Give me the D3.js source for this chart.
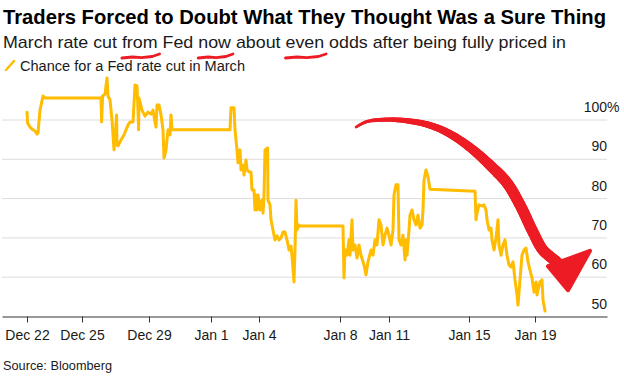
<!DOCTYPE html>
<html><head><meta charset="utf-8">
<script src="https://cdn.jsdelivr.net/npm/d3@7"></script>
<style>
body{margin:0;background:#fff;}
svg{display:block;font-family:"Liberation Sans",Arial,sans-serif;}
</style></head><body>
<svg id="c" width="624" height="378"></svg>
<script>
const title = "Traders Forced to Doubt What They Thought Was a Sure Thing";
const subtitle = "March rate cut from Fed now about even odds after being fully priced in";
const underlinedWords = ["from", "now", "even"];
const legendLabel = "Chance for a Fed rate cut in March";
const sourceLabel = "Source: Bloomberg";
const tickLabels = ["Dec 22","Dec 25","Dec 29","Jan 1","Jan 4","Jan 8","Jan 11","Jan 15","Jan 19"];
const tickSessions = [0,2.75,6.1,9.2,11.6,15.65,18.1,22.1,25.4];
const yTicks = [50,60,70,80,90,100];

// trading-session position and market-implied chance (%)
const session = [
0.00,0.03,0.15,0.30,0.40,0.50,0.55,0.65,0.80,0.90,3.70,3.73,3.78,3.90,4.00,4.05,4.15,4.25,4.35,4.43,
4.48,4.50,4.55,4.70,4.85,4.95,5.05,5.15,5.30,5.40,5.50,5.55,5.58,5.60,5.75,5.90,6.05,6.20,6.30,6.40,
6.45,6.50,6.60,6.70,6.80,6.85,6.95,7.05,7.15,7.20,7.25,7.35,
10.15,10.20,10.35,10.40,10.50,10.55,10.65,10.70,10.80,10.85,10.95,11.00,11.10,11.20,11.25,11.35,11.40,11.45,11.50,11.55,
11.65,11.75,11.80,11.85,11.90,12.03,12.05,12.15,12.20,12.30,12.40,12.50,12.60,12.70,12.80,12.90,13.00,13.10,13.20,13.25,
13.35,13.40,13.45,13.50,13.60,13.65,
15.80,15.85,15.90,16.00,16.10,16.15,16.25,16.30,16.40,16.50,16.60,16.70,16.85,16.95,17.05,17.20,17.30,17.40,17.50,17.60,
17.70,17.80,17.90,18.00,18.10,18.20,18.30,18.35,18.45,18.55,18.60,18.70,18.80,18.90,18.95,19.00,19.10,19.15,19.25,19.35,
19.45,19.55,19.65,19.75,19.80,19.85,19.95,20.05,20.10,20.15,
22.40,22.45,22.50,22.60,22.75,22.85,22.95,23.00,23.10,23.20,23.25,23.35,23.45,23.55,23.60,23.70,23.80,23.90,24.00,24.10,
24.20,24.30,24.40,24.50,24.55,24.65,24.75,24.85,24.95,25.05,25.15,25.25,25.35,25.45,25.50,25.55,25.65,25.75,25.80,25.90];
const chance = [
102.0,99.2,98.2,97.5,97.2,96.4,96.7,102.5,106.1,105.6,105.6,99.5,106.1,106.6,110.7,106.1,105.1,100.0,92.4,97.5,
101.3,93.6,93.4,94.9,96.2,97.5,98.7,99.5,99.5,108.9,108.7,102.5,97.5,105.6,102.5,101.0,102.0,101.5,102.5,99.5,
98.2,103.8,103.8,101.3,97.5,90.3,92.4,97.5,96.2,101.3,97.5,97.5,
97.5,103.1,103.1,97.5,92.4,89.1,92.4,87.3,88.5,86.0,89.8,87.3,86.8,86.8,82.2,82.2,77.1,80.9,77.1,80.9,
77.1,79.6,76.3,80.9,92.4,92.9,79.6,78.4,74.6,72.0,69.5,70.5,69.5,70.0,71.5,71.5,69.5,66.9,67.9,65.4,
58.8,66.9,79.6,72.0,73.3,73.0,
73.0,59.8,66.9,65.6,69.5,65.6,74.6,66.9,68.2,64.9,68.2,65.6,63.1,60.6,63.9,66.9,65.6,69.5,68.2,74.6,
73.3,68.2,70.7,72.5,70.7,68.2,72.0,80.9,83.5,83.5,69.5,68.2,70.7,64.4,69.5,65.6,72.0,75.8,77.1,74.6,
73.3,75.8,72.5,73.3,77.1,84.7,87.3,85.5,84.0,82.4,
81.9,74.6,76.3,78.4,78.1,78.4,77.1,74.6,72.0,72.5,69.5,66.9,70.0,74.6,68.2,65.6,68.2,69.5,65.6,63.1,
62.6,63.9,59.3,55.5,52.9,59.3,65.6,66.9,67.4,63.9,61.8,59.8,56.2,58.8,55.5,56.7,58.8,59.3,54.2,51.4];

// hand-drawn red arrow annotation, in data space
const arrowSession = [16.45,17.0,18.15,19.15,19.9,20.65,21.4,22.3,23.15,24.0,24.65,25.3,25.8,26.5];
const arrowLevel = [98.2,99.6,100.1,99.7,99.0,97.7,95.7,92.4,88.5,84.0,78.4,71.5,66.9,63.9];
const headSession = [26.05,28.15,27.05];
const headLevel = [62.8,66.7,56.7];

const svg = d3.select("#c");
const RED = "#ED1C24", GOLD = "#FFBC00", INK = "#1a1a1a";

const x = d3.scaleLinear().domain([-1.25, 29]).range([2, 607]);
const y = d3.scaleLinear().domain([50, 100]).range([316.5, 120]);

// title: fit the natural width inside the page, then stretch to the reference width
const tt = svg.append("text").attr("x", 3).attr("y", 24).attr("font-size", 20).attr("font-weight", "bold")
  .attr("fill", "#000").text(title);
const tw = tt.node().getComputedTextLength();
tt.attr("font-size", Math.min(21, 20 * 612 / tw)).attr("textLength", 603).attr("lengthAdjust", "spacingAndGlyphs");

const sub = svg.append("text").attr("x", 3).attr("y", 48).attr("font-size", 17).attr("fill", INK)
  .attr("textLength", 563).attr("lengthAdjust", "spacingAndGlyphs").text(subtitle);
svg.append("line").attr("x1", 6).attr("y1", 70).attr("x2", 14).attr("y2", 61)
  .attr("stroke", GOLD).attr("stroke-width", 2.5).attr("stroke-linecap", "round");
svg.append("text").attr("x", 20).attr("y", 71).attr("font-size", 14).attr("fill", INK)
  .attr("textLength", 225).attr("lengthAdjust", "spacingAndGlyphs").text(legendLabel);
svg.append("text").attr("x", 3).attr("y", 370).attr("font-size", 12.5).attr("fill", INK)
  .attr("textLength", 109).attr("lengthAdjust", "spacingAndGlyphs").text(sourceLabel);

// underlines
const subNode = sub.node();
underlinedWords.forEach(w => {
  const i = subtitle.indexOf(" " + w + " ") + 1;
  const x0 = subNode.getStartPositionOfChar(i).x;
  const x1 = subNode.getEndPositionOfChar(i + w.length - 1).x;
  const yy = 56.5, wd = x1 - x0;
  const p = d3.path();
  p.moveTo(x0, yy + 1.5);
  p.lineTo(x0 + wd * 0.3, yy + 0.5);
  p.lineTo(x0 + wd * 0.55, yy + 1.2);
  p.lineTo(x0 + wd * 0.85, yy);
  p.lineTo(x1 + 2, yy - 2.5);
  svg.append("path").attr("d", p.toString()).attr("fill", "none").attr("stroke", RED)
    .attr("stroke-width", 2.8).attr("stroke-linecap", "round").attr("stroke-linejoin", "round");
});

// gridlines
svg.append("g").selectAll("line").data(yTicks.filter(d => d > 50)).join("line")
  .attr("x1", 2).attr("x2", 607).attr("y1", d => y(d)).attr("y2", d => y(d))
  .attr("stroke", "#dcdcdc").attr("stroke-width", 1);

// y labels
const yl = svg.append("g").attr("font-size", 14).attr("fill", INK);
yl.selectAll("text.num").data(yTicks).join("text").attr("class", "num")
  .attr("x", 607).attr("y", d => y(d) - 8).attr("text-anchor", "end").text(d => d);
yl.append("text").attr("x", 607).attr("y", y(100) - 8).text("%");

// x axis
const xAxis = d3.axisBottom(x).tickValues(tickSessions)
  .tickFormat((d, i) => tickLabels[i]).tickSize(6).tickSizeOuter(0);
const gx = svg.append("g").attr("transform", `translate(0,${y(50)})`).call(xAxis);
gx.select(".domain").attr("stroke", "#333");
gx.selectAll(".tick line").attr("stroke", "#333");
gx.selectAll(".tick text").attr("font-size", 14).attr("fill", INK)
  .attr("font-family", '"Liberation Sans",Arial,sans-serif').attr("y", 14).attr("dy", "0.71em");

// data line
const pts = session.map((s, i) => [s, chance[i]]);
svg.append("path").datum(pts)
  .attr("d", d3.line().x(d => x(d[0])).y(d => y(d[1])))
  .attr("fill", "none").attr("stroke", GOLD).attr("stroke-width", 3)
  .attr("stroke-linejoin", "round").attr("stroke-linecap", "round");

// red arrow
const apts = arrowSession.map((s, i) => [x(s), y(arrowLevel[i])]);
const guide = svg.append("path").attr("d", d3.line().curve(d3.curveCatmullRom)(apts))
  .attr("fill", "none").attr("stroke", "none");
const gn = guide.node(), L = gn.getTotalLength(), N = 140;
let prev = gn.getPointAtLength(0);
const ag = svg.append("g").attr("stroke", RED).attr("stroke-linecap", "round");
for (let k = 1; k <= N; k++) {
  const f = k / N, pt = gn.getPointAtLength(L * f);
  const w = 2.5 + 8.5 * Math.min(1, f / 0.6);
  ag.append("line").attr("x1", prev.x).attr("y1", prev.y).attr("x2", pt.x).attr("y2", pt.y)
    .attr("stroke-width", w);
  prev = pt;
}
svg.append("polygon")
  .attr("points", headSession.map((s, i) => [x(s), y(headLevel[i])].join(",")).join(" "))
  .attr("fill", RED).attr("stroke", RED).attr("stroke-width", 4).attr("stroke-linejoin", "round");
</script>
</body></html>
